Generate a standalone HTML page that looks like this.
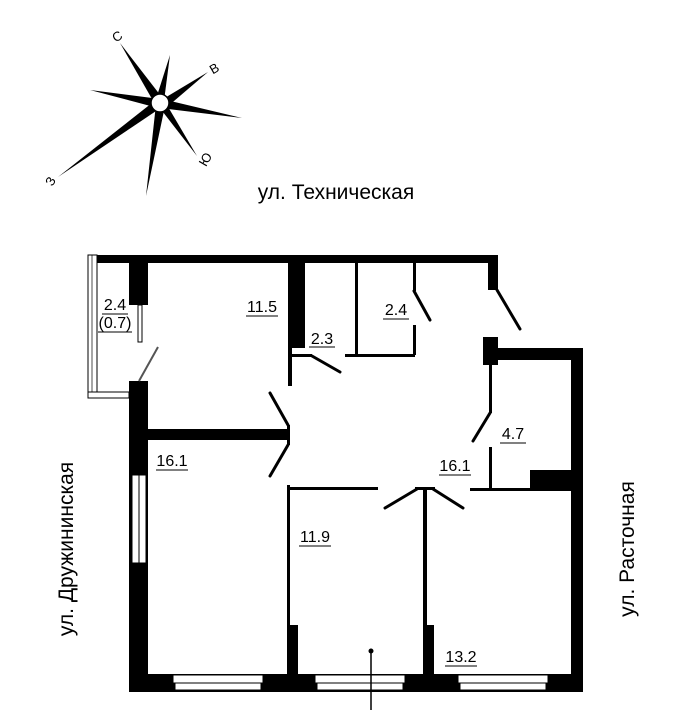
<!DOCTYPE html>
<html><head><meta charset="utf-8"><style>
html,body{margin:0;padding:0;background:#fff;width:679px;height:710px;overflow:hidden}
svg{display:block}
text{font-family:"Liberation Sans",Arial,sans-serif;fill:#000}
</style></head><body>
<svg width="679" height="710" viewBox="0 0 679 710" xmlns="http://www.w3.org/2000/svg">
<!-- compass -->
<g fill="#000">
<polygon points="120,43 164,100 156,106"/>
<polygon points="170,55 164,101 156,99"/>
<polygon points="208,72 163,99 167,107"/>
<polygon points="242,118 162,99 160,108"/>
<polygon points="197,156 156,103 164,100"/>
<polygon points="146,196 156,104 165,106"/>
<polygon points="58,177 157,99 162,107"/>
<polygon points="90,90 160,99 158,108"/>
</g>
<circle cx="160" cy="103" r="9" fill="#fff" stroke="#000" stroke-width="1.5"/>
<text x="117" y="41" font-size="13" text-anchor="middle" transform="rotate(-30 117 36)">С</text>
<text x="214" y="73" font-size="13" text-anchor="middle" transform="rotate(-30 214 68)">В</text>
<text x="205" y="164" font-size="13" text-anchor="middle" transform="rotate(-60 205 159)">Ю</text>
<text x="50" y="186" font-size="13" text-anchor="middle" transform="rotate(-60 50 181)">З</text>

<text x="336" y="199" font-size="21" text-anchor="middle">ул. Техническая</text>
<text x="0" y="0" font-size="21" text-anchor="middle" transform="translate(73,549) rotate(-90)">ул. Дружининская</text>
<text x="0" y="0" font-size="21" text-anchor="middle" transform="translate(634,549) rotate(-90)">ул. Расточная</text>

<g fill="#000">
<rect x="88" y="255" width="410" height="8"/>
<rect x="129" y="255" width="19" height="50"/>
<rect x="288" y="255" width="17" height="93"/>
<rect x="288" y="346" width="4" height="40"/>
<rect x="288" y="354" width="24" height="3"/>
<rect x="355" y="263" width="3" height="92"/>
<rect x="345" y="354" width="70" height="3"/>
<rect x="413" y="325" width="3" height="30"/>
<rect x="413" y="263" width="3" height="28"/>
<rect x="488" y="255" width="10" height="35"/>
<rect x="483" y="337" width="15" height="28"/>
<rect x="483" y="348" width="99" height="12"/>
<rect x="571" y="348" width="12" height="344"/>
<rect x="489" y="360" width="3" height="53"/>
<rect x="489" y="447" width="3" height="43"/>
<rect x="470" y="488" width="101" height="3"/>
<rect x="530" y="470" width="41" height="20"/>
<rect x="129" y="381" width="19" height="311"/>
<rect x="148" y="429" width="140" height="11"/>
<rect x="287" y="425" width="3" height="20"/>
<rect x="129" y="674" width="454" height="18"/>
<rect x="287" y="485" width="3" height="142"/>
<rect x="287" y="625" width="11" height="50"/>
<rect x="290" y="487" width="88" height="3"/>
<rect x="423" y="487" width="4" height="140"/>
<rect x="423" y="625" width="11" height="50"/>
<rect x="415" y="487" width="20" height="3"/>
</g>
<rect x="88" y="255" width="9" height="143" fill="#fff" stroke="#000" stroke-width="1"/>
<line x1="92" y1="255" x2="92" y2="398" stroke="#000" stroke-width="0.7"/>
<rect x="88" y="392" width="41" height="6" fill="#fff" stroke="#000" stroke-width="1"/>
<rect x="138" y="305" width="4" height="37" fill="#fff" stroke="#000" stroke-width="1"/>
<g fill="#fff" stroke="#000" stroke-width="1">
<rect x="132" y="475" width="14" height="88"/>
<line x1="139" y1="475" x2="139" y2="563"/>
<rect x="173" y="675" width="90" height="8"/>
<rect x="175" y="683" width="86" height="7"/>
<rect x="315" y="675" width="90" height="8"/>
<rect x="317" y="683" width="86" height="7"/>
<rect x="458" y="675" width="90" height="8"/>
<rect x="460" y="683" width="86" height="7"/>
</g>
<g stroke="#000" stroke-width="3" stroke-linecap="round">
<line x1="288" y1="425" x2="270" y2="393"/>
<line x1="288" y1="445" x2="270" y2="476"/>
<line x1="312" y1="356" x2="340" y2="372"/>
<line x1="414" y1="291" x2="430" y2="320"/>
<line x1="497" y1="290" x2="520" y2="329"/>
<line x1="490" y1="413" x2="473" y2="441"/>
<line x1="417" y1="489" x2="385" y2="508"/>
<line x1="433" y1="489" x2="463" y2="508"/>
</g>
<line x1="139" y1="381" x2="158" y2="347" stroke="#555" stroke-width="2"/>
<circle cx="371" cy="651" r="2.5" fill="#000"/>
<line x1="371" y1="651" x2="371" y2="710" stroke="#000" stroke-width="1.5"/>
<g font-size="16" text-anchor="middle">
<text x="115" y="310">2.4</text><line x1="102" y1="314" x2="128" y2="314" stroke="#000"/>
<text x="115" y="328">(0.7)</text><line x1="98" y1="332" x2="132" y2="332" stroke="#000"/>
<text x="262" y="312">11.5</text><line x1="246" y1="316" x2="278" y2="316" stroke="#000"/>
<text x="322" y="344">2.3</text><line x1="309" y1="347" x2="335" y2="347" stroke="#000"/>
<text x="396" y="315">2.4</text><line x1="383" y1="319" x2="409" y2="319" stroke="#000"/>
<text x="513" y="439">4.7</text><line x1="500" y1="443" x2="526" y2="443" stroke="#000"/>
<text x="172" y="466">16.1</text><line x1="156" y1="470" x2="188" y2="470" stroke="#000"/>
<text x="455" y="471">16.1</text><line x1="439" y1="475" x2="471" y2="475" stroke="#000"/>
<text x="315" y="542">11.9</text><line x1="299" y1="546" x2="331" y2="546" stroke="#000"/>
<text x="461" y="662">13.2</text><line x1="445" y1="666" x2="477" y2="666" stroke="#000"/>
</g>
</svg>
</body></html>
